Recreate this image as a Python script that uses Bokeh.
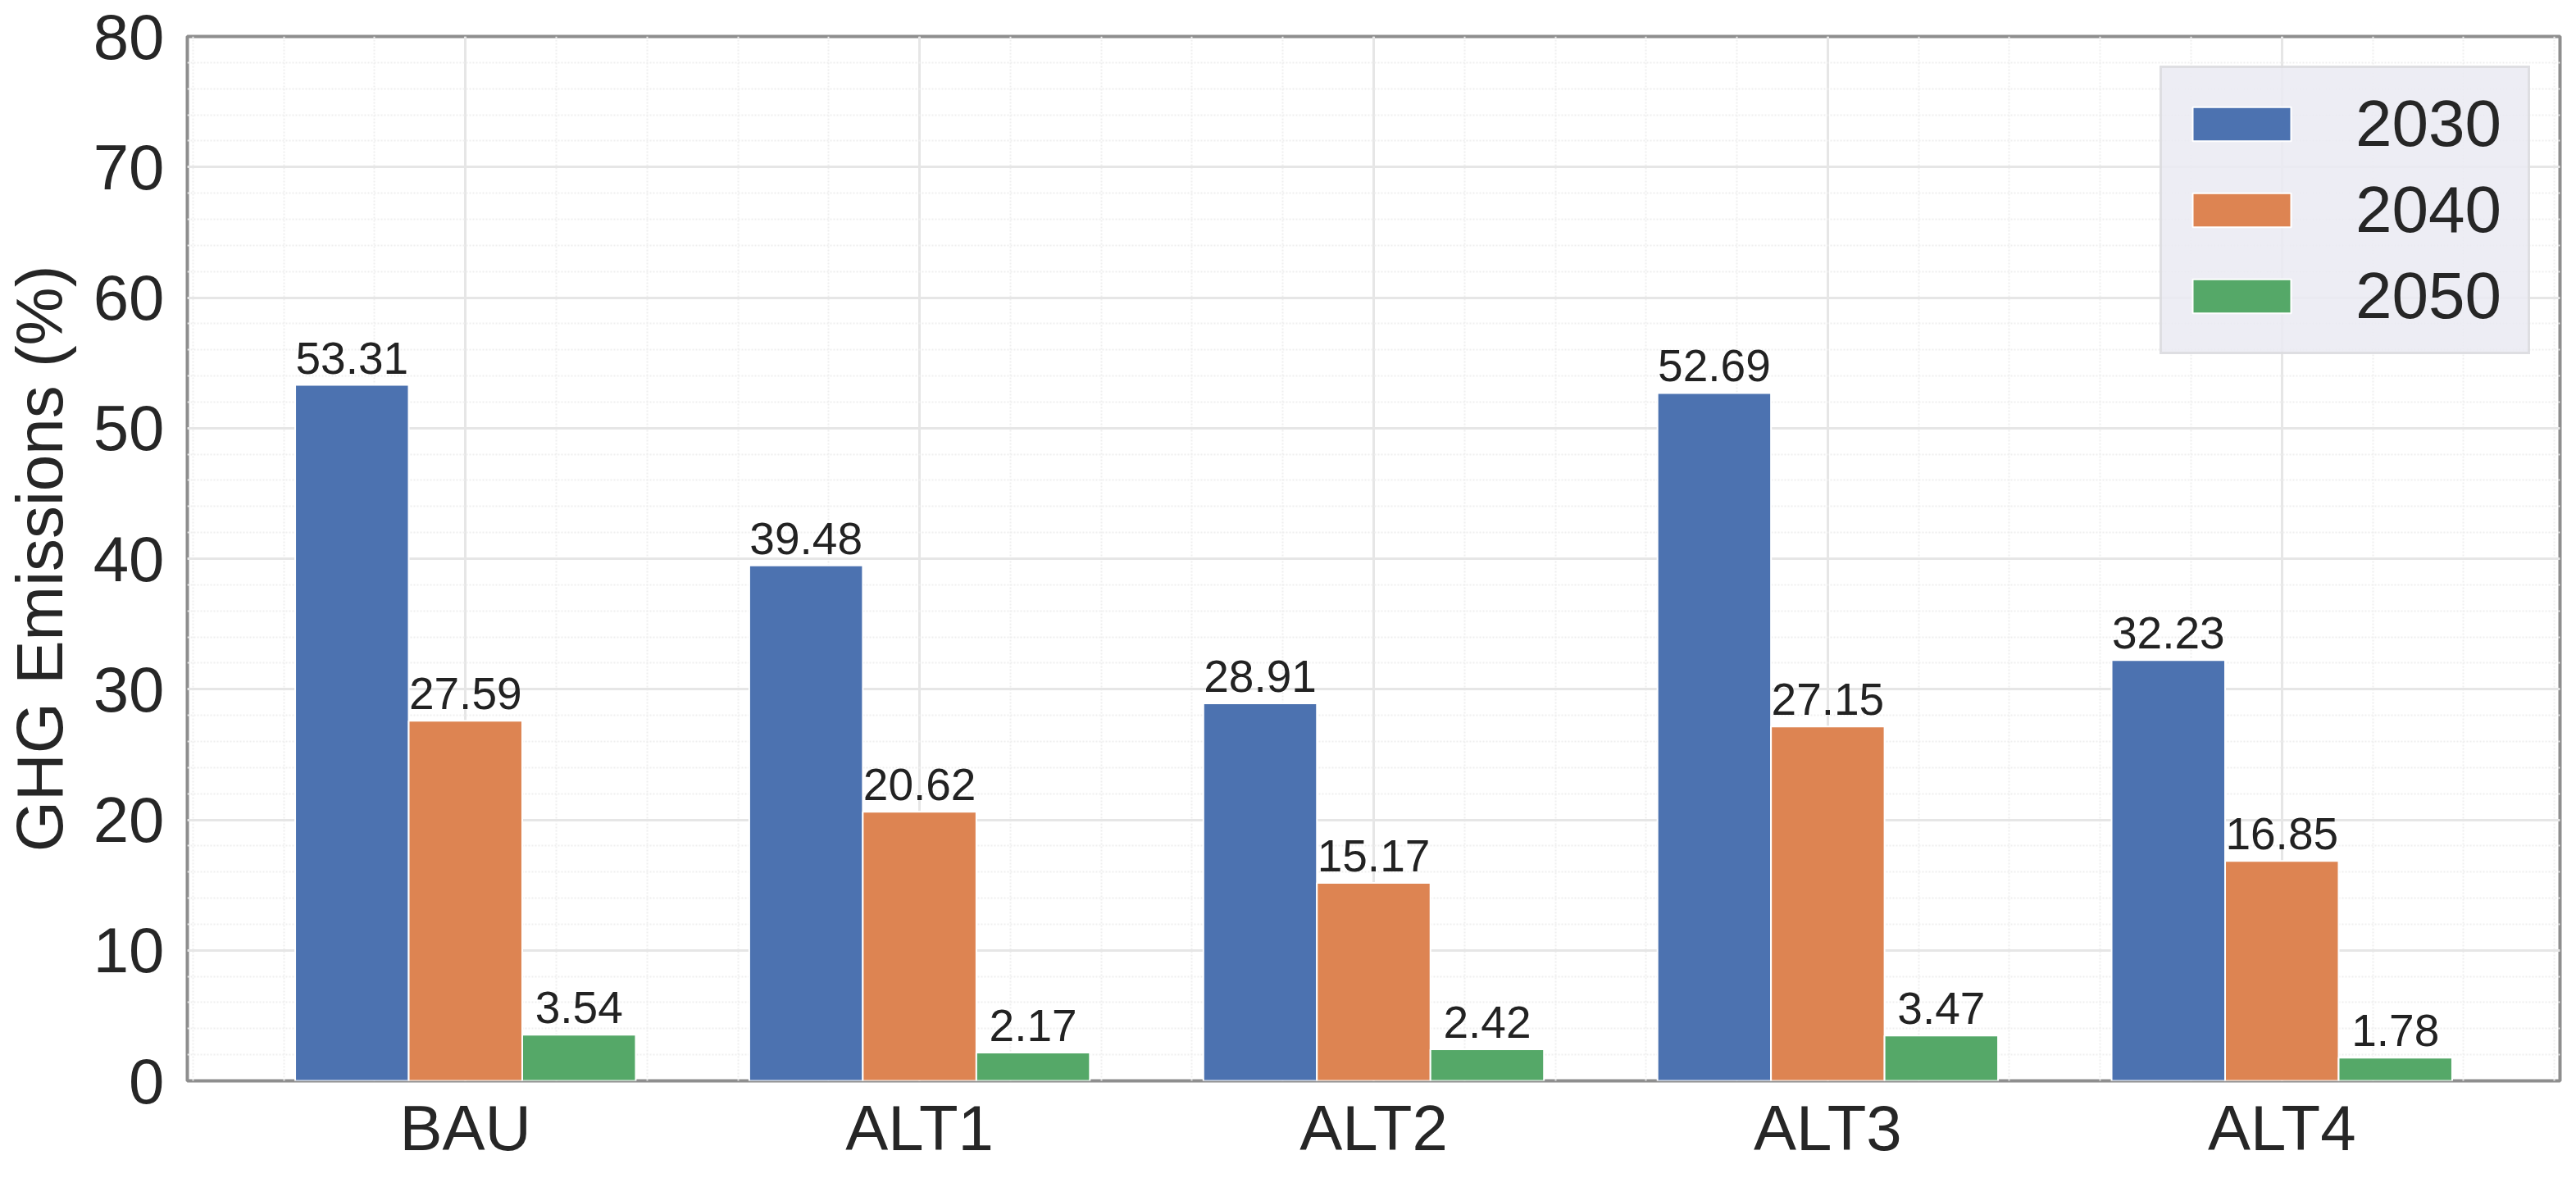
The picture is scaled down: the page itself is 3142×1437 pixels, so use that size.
from bokeh.plotting import figure
from bokeh.models import Range1d, FixedTicker, Legend, LegendItem, ColumnDataSource
from bokeh.embed import file_html
from bokeh.resources import INLINE
from bokeh.core.properties import value

# ---- data ----
categories = ["BAU", "ALT1", "ALT2", "ALT3", "ALT4"]
years = ["2030", "2040", "2050"]
v2030 = [53.31, 39.48, 28.91, 52.69, 32.23]
v2040 = [27.59, 20.62, 15.17, 27.15, 16.85]
v2050 = [3.54, 2.17, 2.42, 3.47, 1.78]
y_tick_values = [0, 10, 20, 30, 40, 50, 60, 70, 80]
y_label = "GHG Emissions (%)"

series = [v2030, v2040, v2050]
colors = ["#4c72b0", "#dd8452", "#55a868"]
bar_width = 0.25
offsets = [-0.25, 0.0, 0.25]

FONT = "Liberation Sans"
TXT = "#262626"

n = len(categories)
lo = -bar_width * 1.5
hi = (n - 1) + bar_width * 1.5
pad = 0.05 * (hi - lo)

p = figure(frame_width=2894, frame_height=1274, output_backend="svg", toolbar_location=None,
           x_range=Range1d(lo - pad, hi + pad), y_range=Range1d(0, 80),
           min_border_left=219, min_border_right=4, min_border_top=44,
           min_border_bottom=95)
p.background_fill_color = "white"
p.border_fill_color = "white"
p.outline_line_color = "#8e8e8e"
p.outline_line_width = 4

legend_items = []
for k, (vals, col, yr) in enumerate(zip(series, colors, years)):
    xs = [i + offsets[k] for i in range(n)]
    src = ColumnDataSource(dict(x=xs, top=vals, lab=[f"{v:.2f}" for v in vals]))
    r = p.vbar(x="x", top="top", bottom=0, width=bar_width, source=src,
               fill_color=col, line_color="white", line_width=2)
    legend_items.append(LegendItem(label=yr, renderers=[r]))
    p.text(x="x", y="top", text="lab", source=src, text_align="center",
           text_baseline="alphabetic", y_offset=-33,
           text_font=value(FONT), text_font_size="55px", text_color="#222222")

# axes / ticks
minor_x = [round(-0.6 + 0.2 * k, 4) for k in range(27)]
p.xaxis.ticker = FixedTicker(ticks=list(range(n)), minor_ticks=minor_x)
p.xaxis.major_label_overrides = {i: c for i, c in enumerate(categories)}
p.yaxis.ticker = FixedTicker(ticks=y_tick_values, minor_ticks=list(range(0, 81, 2)))
p.yaxis.axis_label = y_label

for ax in (p.xaxis[0], p.yaxis[0]):
    ax.axis_line_color = None
    ax.major_tick_line_color = None
    ax.minor_tick_line_color = None
    ax.major_tick_out = 0
    ax.major_tick_in = 0
    ax.minor_tick_out = 0
    ax.minor_tick_in = 0
    ax.major_label_text_font = FONT
    ax.major_label_text_font_size = "78px"
    ax.major_label_text_color = TXT
    ax.axis_label_text_font = FONT
    ax.axis_label_text_font_size = "80px"
    ax.axis_label_text_font_style = "normal"
    ax.axis_label_text_color = TXT

p.xaxis.major_label_standoff = 13
p.yaxis.major_label_standoff = 28
p.yaxis.axis_label_standoff = 18

for g in (p.xgrid[0], p.ygrid[0]):
    g.grid_line_color = "#e6e6e6"
    g.grid_line_width = 3
    g.minor_grid_line_color = "#efefef"
    g.minor_grid_line_width = 2
    g.minor_grid_line_dash = "2 2"

legend = Legend(items=legend_items, location="top_right")
legend.label_text_font = FONT
legend.label_text_font_size = "80px"
legend.label_text_color = TXT
legend.glyph_width = 150
legend.glyph_height = 52
legend.label_standoff = 64
legend.label_width = 188
legend.spacing = 13
legend.padding = 22
legend.margin = 36
legend.background_fill_color = "#eaeaf2"
legend.background_fill_alpha = 0.85
legend.border_line_color = "#cfcfcf"
legend.border_line_width = 3
p.add_layout(legend)

open("out.html", "w").write(file_html(p, INLINE))
